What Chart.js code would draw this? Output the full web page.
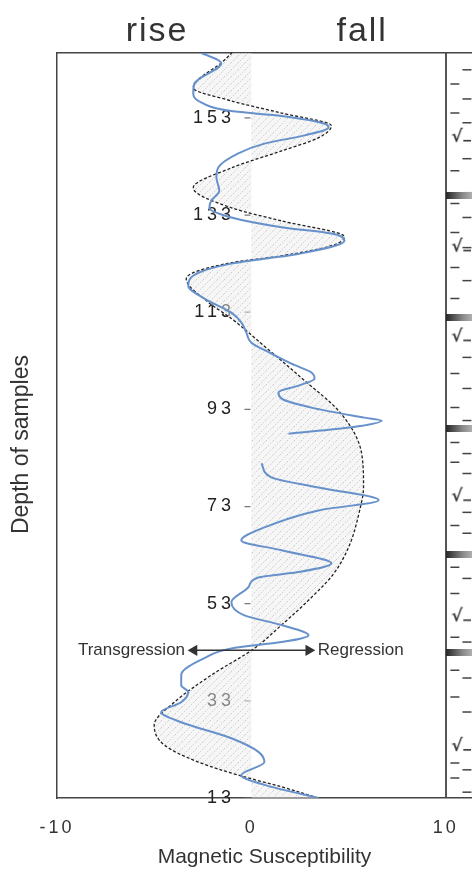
<!DOCTYPE html>
<html lang="en">
<head>
<meta charset="UTF-8">
<title>Magnetic Susceptibility</title>
<style>
  html, body { margin: 0; padding: 0; background: #fff; }
  canvas { display: block; }
</style>
<script src="https://cdn.jsdelivr.net/npm/chart.js@4/dist/chart.umd.min.js"></script>
</head>
<body>
<canvas id="chart" width="472" height="870"></canvas>
<script>
// fitted sea-level curve (dashed), depth from bottom to top
const curveDepth = [13.0, 15.3, 17.7, 20.4, 23.9, 28.0, 32.7, 38.3, 43.8, 48.6, 53.7, 59.0, 64.6, 72.2, 77.0, 84.0, 92.0, 100.0, 106.0, 111.7, 115.0, 119.9, 123.2, 124.6, 126.7, 128.5, 131.8, 134.5, 138.6, 142.7, 146.2, 148.9, 151.4, 154.0, 156.5, 159.2, 164.7, 166.4];
const curveValue = [3.45, 1.55, -0.67, -2.73, -4.48, -5.0, -3.97, -2.06, 0.15, 1.55, 2.94, 4.2, 5.0, 5.57, 5.77, 5.67, 4.64, 2.42, 0.67, -1.03, -2.2, -3.35, -1.03, 1.55, 4.12, 4.79, 1.55, -1.03, -2.99, -1.03, 1.55, 3.45, 4.12, 1.55, -1.03, -2.99, -1.44, -1.0];

// measured magnetic susceptibility (blue), null = no samples
const sampleDepth = [13.0, 15.7, 17.7, 20.4, 22.5, 25.3, 28.6, 30.7, 32.7, 34.8, 36.2, 38.3, 41.8, 43.8, 45.1, 46.5, 48.6, 50.6, 53.3, 56.4, 58.4, 59.5, 61.3, 64.0, 66.0, 68.7, 72.2, 74.3, 76.9, 79.0, 81.9, 85.0, 88.0, 89.3, 90.7, 91.3, 93.2, 95.2, 96.5, 97.9, 99.3, 100.6, 102.4, 104.5, 106.7, 108.8, 110.9, 112.9, 115.8, 118.5, 121.1, 123.0, 124.0, 125.0, 127.7, 129.2, 130.5, 132.5, 134.5, 136.0, 138.0, 140.8, 142.8, 145.7, 147.7, 149.4, 151.0, 151.8, 153.4, 154.4, 156.5, 158.0, 160.0, 164.3, 166.4];
const sampleValue = [3.45, 0.67, -0.52, 0.67, 0.36, -1.03, -3.61, -4.64, -3.61, -3.25, -3.61, -3.61, -2.42, -1.03, 1.55, 2.94, 1.55, -0.36, -1.03, -0.15, 0.36, 2.42, 4.12, 1.55, -0.52, 0.67, 3.45, 6.55, 3.45, 1.03, 0.52, null, 1.91, 5.15, 6.70, 5.82, 3.25, 1.55, 1.39, 2.42, 3.25, 3.09, 2.06, 1.03, 0, -0.26, -0.52, -1.03, -2.42, -3.25, -2.73, -1.03, 0.67, 2.42, 4.79, 4.12, 1.55, -1.03, -2.16, -2.06, -1.65, -1.80, -1.70, -0.67, 0.67, 2.73, 3.97, 3.76, 1.55, -1.03, -2.73, -2.99, -2.94, -1.55, -2.58];

const depthTicks = [13, 33, 53, 73, 93, 113, 133, 153];
const xTicks = [-10, 0, 10];
const topLabels = ['rise', 'fall'];
const topTickValues = [-4.85, 5.7];

// lithology column
const bedDepths = [137.0, 111.9, 89.1, 63.2, 43.0];
const leftDashDepths = [160.0, 154.0, 142.1, 135.4, 129.4, 122.2, 115.8, 100.4, 93.4, 86.2, 82.1, 69.1, 60.5, 55.1, 46.1, 39.3, 33.8, 20.2, 17.1];
const rightDashDepths = [162.9, 156.9, 152.0, 144.6, 137.6, 132.5, 126.3, 119.5, 103.7, 97.3, 90.7, 83.9, 79.8, 71.8, 67.5, 58.2, 45.1, 37.7, 30.7, 18.8, 14.2];
const rootDepths = [149.3, 126.7, 108.2, 75.3, 50.6, 23.9];

const arrowDepth = 43.4;
const arrowEnds = [-2.95, 2.95];
const arrowText = ['Transgression', 'Regression'];

const LEFT_COL = 10.47, RIGHT_COL = 11.09, BED_COL = 10.73, ROOT_COL = 10.8;

Chart.defaults.font.family = '"Liberation Sans", Arial, sans-serif';
Chart.defaults.color = '#333';

const canvas = document.getElementById('chart');
const mainCtx = canvas.getContext('2d');

function makeHatch() {
  const c = document.createElement('canvas');
  c.width = 7; c.height = 7;
  const g = c.getContext('2d');
  g.fillStyle = 'rgba(238,238,238,0.5)';
  g.fillRect(0, 0, 7, 7);
  g.strokeStyle = 'rgba(150,150,150,0.55)';
  g.lineWidth = 0.8;
  g.setLineDash([1.5, 1.5]);
  g.beginPath(); g.moveTo(0, 7); g.lineTo(7, 0); g.stroke();
  return mainCtx.createPattern(c, 'repeat');
}

function makeBed() {
  const c = document.createElement('canvas');
  c.width = 28; c.height = 7;
  const g = c.getContext('2d');
  const grad = g.createLinearGradient(0, 0, 28, 0);
  grad.addColorStop(0, '#262626');
  grad.addColorStop(0.6, '#8a8a8a');
  grad.addColorStop(1, '#b8b8b8');
  g.fillStyle = grad;
  g.fillRect(0, 0, 28, 7);
  return c;
}

function makeRoot() {
  const c = document.createElement('canvas');
  c.width = 20; c.height = 18;
  const g = c.getContext('2d');
  g.fillStyle = '#333';
  g.font = 'bold 17px "DejaVu Sans"';
  g.fillText('\u221A', 0, 15);
  g.fillRect(12, 13, 8, 1.6);
  return c;
}

const toPoints = (xs, ys) => xs.map((v, i) => ({x: v, y: ys[i]}));
const column = (col, depths) => depths.map(d => ({x: col, y: d}));

// no extra room around the plot for tick labels
const noPadding = s => { s.paddingTop = 0; s.paddingBottom = 0; s.paddingLeft = 0; s.paddingRight = 0; };

// spaced digits like the original figure
const spacing = {y: '4px', x: '3px', xTop: '2px'};
const letterSpacingPlugin = {
  id: 'letterSpacing',
  beforeDraw(chart) {
    Object.keys(spacing).forEach(id => {
      const scale = chart.scales[id];
      if (!scale || scale._spaced) return;
      const draw = scale.drawLabels.bind(scale);
      scale.drawLabels = area => {
        chart.ctx.save();
        chart.ctx.letterSpacing = spacing[id];
        draw(area);
        chart.ctx.restore();
      };
      scale._spaced = true;
    });
  }
};

const arrowLabels = {
  id: 'arrowLabels',
  afterDatasetsDraw(chart) {
    const {ctx, scales: {x, y}} = chart;
    const py = y.getPixelForValue(arrowDepth);
    ctx.save();
    ctx.font = '17px "Liberation Sans", Arial, sans-serif';
    ctx.fillStyle = '#333';
    ctx.textBaseline = 'middle';
    ctx.textAlign = 'right';
    ctx.fillText(arrowText[0], x.getPixelForValue(arrowEnds[0]) - 9, py);
    ctx.textAlign = 'left';
    ctx.fillText(arrowText[1], x.getPixelForValue(arrowEnds[1]) + 9, py);
    ctx.restore();
  }
};

new Chart(mainCtx, {
  type: 'line',
  data: {
    datasets: [
      {
        label: 'arrow',
        data: arrowEnds.map(v => ({x: v, y: arrowDepth})),
        borderColor: '#333',
        borderWidth: 1.5,
        pointStyle: 'triangle',
        pointRadius: 5,
        pointRotation: [-90, 90],
        pointBackgroundColor: '#333',
        pointBorderColor: '#333',
        order: 0
      },
      {
        label: 'Magnetic susceptibility',
        data: toPoints(sampleValue, sampleDepth),
        borderColor: '#6791cb',
        borderWidth: 2,
        cubicInterpolationMode: 'monotone',
        spanGaps: false,
        fill: false,
        order: 1
      },
      {
        label: 'Sea level',
        data: toPoints(curveValue, curveDepth),
        borderColor: '#222',
        borderWidth: 1.3,
        borderDash: [3, 2],
        cubicInterpolationMode: 'monotone',
        fill: 'origin',
        backgroundColor: makeHatch(),
        order: 2
      },
      {
        type: 'scatter',
        label: 'ticks',
        data: column(-0.2, depthTicks),
        pointStyle: 'line',
        pointRadius: 3,
        borderColor: '#777',
        borderWidth: 1.2,
        order: 3
      },
      {
        type: 'scatter',
        label: 'beds',
        data: column(BED_COL, bedDepths),
        pointStyle: makeBed(),
        pointRadius: 3,
        clip: false,
        order: 4
      },
      {
        type: 'scatter',
        label: 'dashes left',
        data: column(LEFT_COL, leftDashDepths),
        pointStyle: 'line',
        pointRadius: 4.5,
        borderColor: '#444',
        borderWidth: 1.5,
        order: 4
      },
      {
        type: 'scatter',
        label: 'dashes right',
        data: column(RIGHT_COL, rightDashDepths),
        pointStyle: 'line',
        pointRadius: 4.5,
        borderColor: '#444',
        borderWidth: 1.5,
        clip: false,
        order: 4
      },
      {
        type: 'scatter',
        label: 'roots',
        data: column(ROOT_COL, rootDepths),
        pointStyle: makeRoot(),
        pointRadius: 3,
        clip: false,
        order: 4
      }
    ]
  },
  options: {
    indexAxis: 'y',
    responsive: false,
    animation: false,
    events: [],
    layout: {autoPadding: false, padding: {top: 10, left: 0, right: 0, bottom: 0}},
    elements: {point: {radius: 0}},
    plugins: {legend: {display: false}, tooltip: {enabled: false}},
    scales: {
      x: {
        type: 'linear',
        position: 'bottom',
        min: -10,
        max: 11.35,
        afterBuildTicks: s => { s.ticks = xTicks.map(v => ({value: v})); },
        afterFit: s => { noPadding(s); s.height = 72; },
        ticks: {font: {size: 18}, color: '#333', padding: 19, maxRotation: 0},
        grid: {
          drawTicks: false,
          lineWidth: 2,
          color: c => (c.tick && c.tick.value === 10 ? '#555' : 'rgba(0,0,0,0)')
        },
        border: {display: true, color: '#444', width: 1.5},
        title: {display: true, text: 'Magnetic Susceptibility', font: {size: 21}, color: '#333', padding: {top: 6, bottom: 0}}
      },
      xTop: {
        type: 'linear',
        position: 'top',
        min: -10,
        max: 11.35,
        afterBuildTicks: s => { s.ticks = topTickValues.map(v => ({value: v})); },
        afterFit: noPadding,
        ticks: {font: {size: 34}, color: '#333', padding: 1, maxRotation: 0, callback: (v, i) => topLabels[i]},
        grid: {display: false, drawTicks: false},
        border: {display: true, color: '#444', width: 1.5}
      },
      y: {
        type: 'linear',
        position: 'left',
        min: 13,
        max: 166.4,
        afterBuildTicks: s => { s.ticks = depthTicks.map(v => ({value: v})); },
        afterFit: s => { noPadding(s); s.width = 57; },
        ticks: {mirror: true, crossAlign: 'far', padding: 148, font: {size: 18}, color: '#222'},
        grid: {display: false, drawTicks: false},
        border: {display: true, color: '#444', width: 1.5},
        // trailing spaces push the centred title a little lower, as in the figure
        title: {display: true, text: 'Depth of samples      ', font: {size: 23}, color: '#333', padding: {top: 8, bottom: 0}}
      }
    }
  },
  plugins: [letterSpacingPlugin, arrowLabels]
});
</script>
</body>
</html>
